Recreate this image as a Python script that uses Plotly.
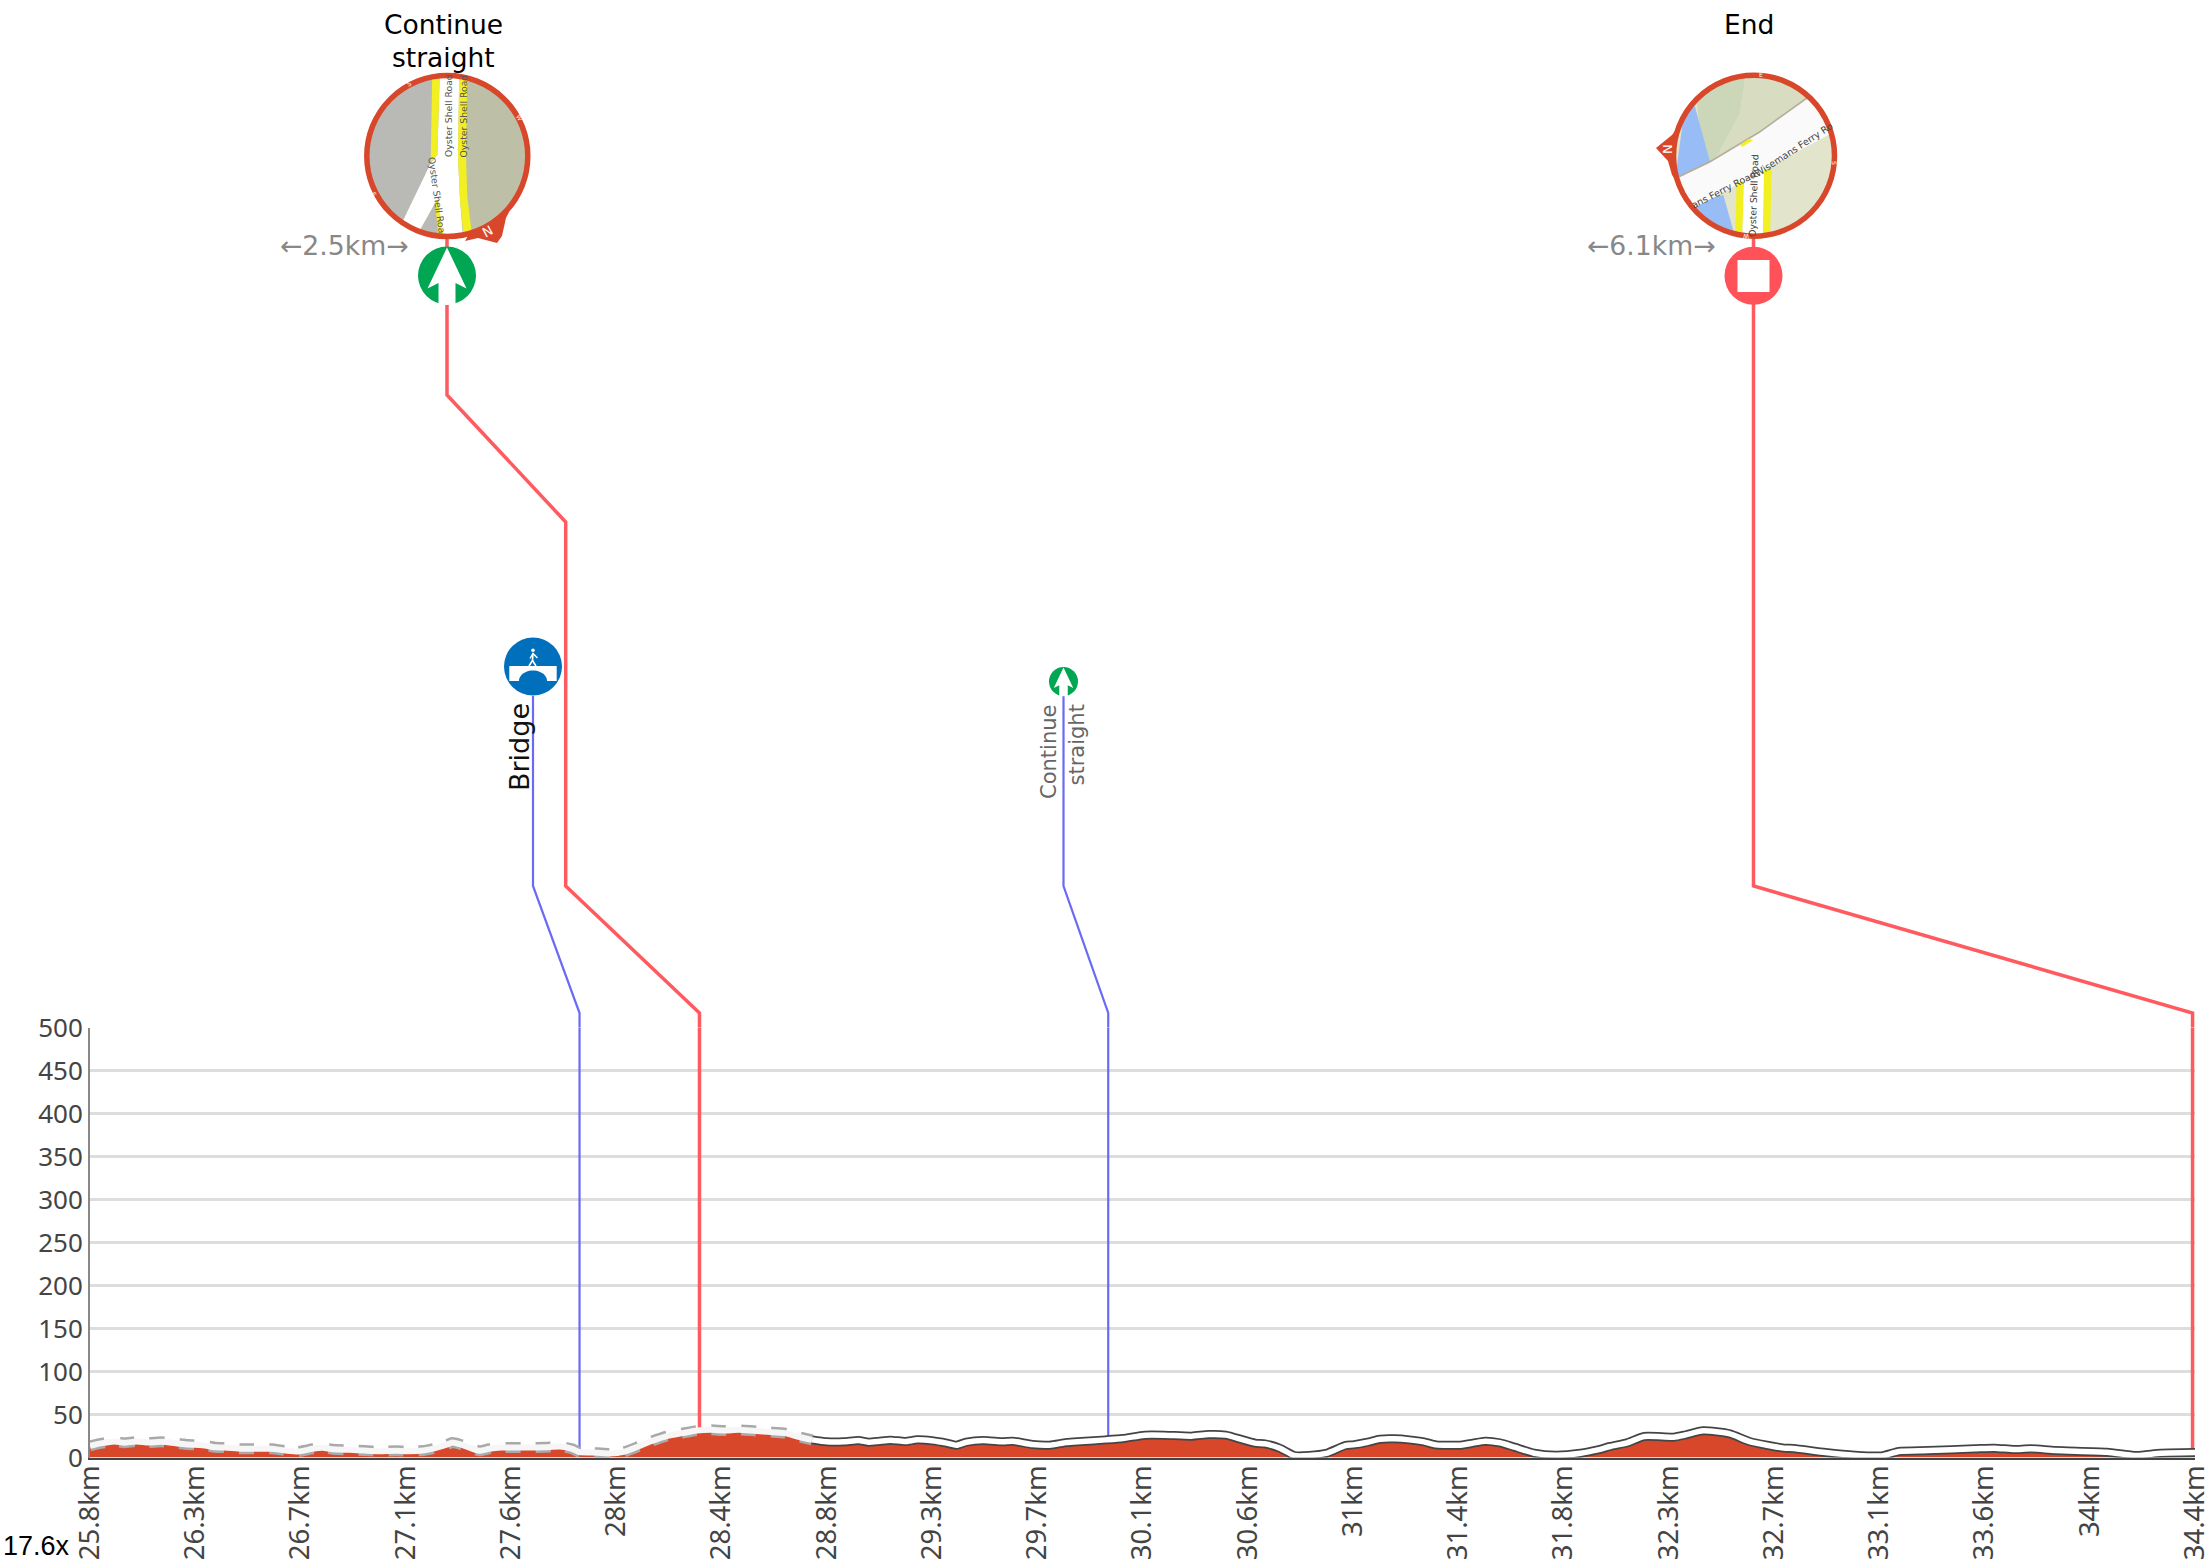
import math
import plotly.graph_objects as go

W, H = 2212, 1567
PLOT_L, PLOT_R, PLOT_T, PLOT_B = 90, 2195, 1027.5, 1457.5

# ---- data ----
km = [25.84,25.89,25.94,25.98,26.03,26.08,26.13,26.19,26.24,26.30,26.35,26.39,26.46,26.51,26.58,26.64,26.69,26.75,26.79,26.83,26.90,26.96,27.02,27.09,27.14,27.20,27.25,27.30,27.32,27.36,27.43,27.47,27.52,27.58,
      27.63,27.70,27.76,27.81,27.84,27.89,27.96,28.02,28.08,28.13,28.20,28.26,28.32,28.38,28.43,28.49,28.54,28.61,28.68,28.73,28.79,
      28.85,28.92,28.98,29.02,29.06,29.11,29.17,29.22,29.28,29.34,29.38,29.42,29.49,29.57,29.61,29.69,29.76,29.83,29.89,29.99,30.06,30.15,30.23,30.34,30.41,30.48,30.55,30.60,30.64,30.70,30.76,30.82,30.89,30.97,31.00,31.06,31.11,31.17,31.23,31.29,31.34,31.44,31.49,31.54,31.60,31.66,31.74,31.83,31.93,32.00,32.05,32.12,32.19,32.31,32.36,32.43,32.54,32.62,32.76,32.80,32.93,33.05,33.16,33.23,33.35,33.54,33.62,33.70,33.77,33.87,34.08,34.20,34.30,34.44]
elevation = [13.6,16.7,18.6,17.1,18.6,17.4,18.2,16.7,15.1,14.3,12.0,11.6,10.1,10.1,10.1,8.1,7.0,10.1,11.2,9.7,8.9,8.1,7.4,7.8,7.4,8.1,10.9,15.1,17.4,14.7,7.8,10.1,11.6,11.6,
             11.6,12.0,12.8,10.1,6.2,5.8,4.7,6.6,12.8,18.6,25.2,28.3,31.4,32.2,31.4,32.2,31.4,29.8,28.3,24.4,20.5,
             18.2,18.2,19.8,17.8,18.6,20.2,18.6,20.5,19.4,16.7,14.3,17.8,19.8,18.2,19.0,15.1,14.3,17.4,18.6,20.5,22.1,26.0,26.0,24.8,26.7,26.0,20.5,16.7,15.9,10.9,2.3,2.3,4.7,14.0,14.7,17.8,21.3,21.7,20.5,18.2,14.7,14.3,16.7,19.0,17.1,12.0,5.0,2.7,5.0,8.9,12.8,17.1,24.4,23.6,26.4,31.0,27.5,18.6,10.9,10.5,5.8,2.7,1.9,7.0,8.1,10.1,10.9,9.3,10.1,8.1,6.2,2.3,5.0,5.8]
DASHED_END_KM = 28.79

tick_km = [25.84,26.27,26.70,27.13,27.56,27.99,28.42,28.85,29.28,29.71,30.14,30.57,31.00,31.43,31.86,32.29,32.72,33.15,33.58,34.01,34.44]
tick_labels = ["25.8km","26.3km","26.7km","27.1km","27.6km","28km","28.4km","28.8km","29.3km","29.7km","30.1km","30.6km","31km","31.4km","31.8km","32.3km","32.7km","33.1km","33.6km","34km","34.4km"]
y_ticks = [0,50,100,150,200,250,300,350,400,450,500]

callout_km = [27.84, 28.33, 30.00, 34.43]
callout_elev = [6.0, 31.5, 20.5, 5.8]
callout_colors = ["#6a6af5", "#ff5a5f", "#6a6af5", "#ff5a5f"]
callout_widths = [2.2, 3.5, 2.2, 3.5]
STEM_TOP = 500

RED = "#d9472b"
KM_MIN, KM_MAX = tick_km[0], tick_km[-1]

# ---- helpers (page pixels to paper) ----
def X(p): return p / W
def Y(p): return 1 - p / H
def km2px(k): return PLOT_L + (k - KM_MIN) / (KM_MAX - KM_MIN) * (PLOT_R - PLOT_L)

shapes, annots = [], []

def path(points, fill=None, line=None, width=0, close=True):
    d = "M" + " L".join(f"{X(x):.5f},{Y(y):.5f}" for x, y in points) + (" Z" if close else "")
    shapes.append(dict(type="path", path=d, xref="paper", yref="paper", layer="above",
                       fillcolor=fill if fill else "rgba(0,0,0,0)",
                       line=dict(color=line if line else "rgba(0,0,0,0)", width=width)))

def circle(cx, cy, r, fill=None, line=None, width=0):
    shapes.append(dict(type="circle", xref="paper", yref="paper", layer="above",
                       x0=X(cx - r), x1=X(cx + r), y0=Y(cy + r), y1=Y(cy - r),
                       fillcolor=fill if fill else "rgba(0,0,0,0)",
                       line=dict(color=line if line else "rgba(0,0,0,0)", width=width)))

def text(x, y, s, size, color, font="DejaVu Sans", angle=0):
    annots.append(dict(x=X(x), y=Y(y), xref="paper", yref="paper", text=s, showarrow=False,
                       textangle=angle, xanchor="center", yanchor="middle", align="center",
                       font=dict(family=font, size=size, color=color)))

def clip_circle(poly, cx, cy, r, n=96):
    """Clip a polygon to the inside of a circle (Sutherland-Hodgman on an n-gon)."""
    out = list(poly)
    for i in range(n):
        a0, a1 = 2*math.pi*i/n, 2*math.pi*(i+1)/n
        ax, ay = cx + r*math.cos(a0), cy + r*math.sin(a0)
        bx, by = cx + r*math.cos(a1), cy + r*math.sin(a1)
        side = lambda p: (bx-ax)*(p[1]-ay) - (by-ay)*(p[0]-ax)
        res = []
        for j in range(len(out)):
            p, q = out[j], out[(j+1) % len(out)]
            sp, sq = side(p), side(q)
            if sp >= 0: res.append(p)
            if sp * sq < 0:
                t = sp / (sp - sq)
                res.append((p[0] + t*(q[0]-p[0]), p[1] + t*(q[1]-p[1])))
        out = res
        if not out: break
    return out

def map_piece(poly, ox, oy, cx, cy, fill, r=79):
    pts = [(ox + a/3, oy + b/3) for a, b in poly]
    c = clip_circle(pts, cx, cy, r)
    if c: path(c, fill=fill)

# ---- leader lines above the chart ----
tops = [
    [(533, 696), (533, 886), (km2px(callout_km[0]), 1013), (km2px(callout_km[0]), PLOT_T)],
    [(447, 239), (447, 395), (565.7, 522), (565.7, 886), (km2px(callout_km[1]), 1013), (km2px(callout_km[1]), PLOT_T)],
    [(1063.5, 696), (1063.5, 886), (km2px(callout_km[2]), 1013), (km2px(callout_km[2]), PLOT_T)],
    [(1753.5, 239), (1753.5, 886), (km2px(callout_km[3]), 1013), (km2px(callout_km[3]), PLOT_T)],
]
for t, c, w in zip(tops, callout_colors, callout_widths):
    path(t, line=c, width=w, close=False)

# ---- map 1 ----
c1 = (447.3, 156)
o1 = (260, 0)
# N pin (under the disc)
path([(465,241),(478,238),(497,243),(502,236),(506,218),(509,212),(480,215)], fill=RED)
circle(*c1, 79, fill="#b9b9b6")
map_piece([(600,200),(900,200),(900,750),(612,750),(600,600),(594,470)], *o1, *c1, "#bdbfa6")
map_piece([(540,200),(598,200),(594,470),(600,600),(612,750),(545,750),(530,600),(480,690),(430,660),(512,490),(532,465)], *o1, *c1, "#ffffff")
map_piece([(517,200),(540,200),(532,465),(512,487)], *o1, *c1, "#f2f022")
map_piece([(598,200),(622,200),(618,470),(622,590),(638,720),(612,720),(600,600),(594,470)], *o1, *c1, "#f2f022")
map_piece([(525,600),(534,600),(552,720),(536,720)], *o1, *c1, "#f2f022")
circle(*c1, 80.5, line=RED, width=5.5)
text(487.5, 232, "N", 13, "white", angle=-28)
text(409, 83.5, "S", 6, "white", angle=-28)
text(519.5, 117, "W", 6, "white", angle=62)
text(374.5, 194.5, "E", 6, "white", angle=62)
text(449, 116, "Oyster Shell Road", 9.3, "#555555", angle=-90)
text(463.5, 116, "Oyster Shell Road", 9.3, "#555555", angle=-90)
text(437.5, 195, "Oyster Shell Roa", 9.3, "#555555", angle=82)

# ---- map 2 ----
c2 = (1754, 155.7)
o2 = (1560, 0)
# N pin (under the disc)
path([(1690,110),(1672,135),(1656,148),(1668,161),(1672,175),(1682,190),(1700,150)], fill=RED)
circle(*c2, 79, fill="#e2e5cb")
map_piece([(400,200),(560,200),(540,340),(470,470),(450,485),(420,400)], *o2, *c2, "#ccd7b9")
map_piece([(560,200),(700,200),(745,290),(600,395),(470,470),(540,340)], *o2, *c2, "#d8dcc0")
map_piece([(380,280),(405,320),(450,485),(345,540)], *o2, *c2, "#98bcf5")
map_piece([(360,620),(490,585),(528,720),(440,720)], *o2, *c2, "#98bcf5")
map_piece([(340,540),(450,485),(600,395),(745,290),(850,380),(400,625),(350,600)], *o2, *c2, "#fafafa")
map_piece([(340,535),(450,482),(600,392),(745,288),(745,294),(600,398),(450,488),(340,541)], *o2, *c2, "#b5ae9c")
map_piece([(530,548),(552,545),(547,715),(525,715)], *o2, *c2, "#f2f022")
map_piece([(612,510),(635,508),(630,715),(608,715)], *o2, *c2, "#f2f022")
map_piece([(552,545),(612,510),(608,715),(547,715)], *o2, *c2, "#ffffff")
map_piece([(540,435),(565,417),(580,420),(548,440)], *o2, *c2, "#f2f022")
circle(*c2, 80.5, line=RED, width=5.5)
text(1667, 149, "N", 13, "white", angle=-90)
text(1760.5, 74, "E", 6, "white")
text(1834.5, 162.5, "S", 6, "white", angle=90)
text(1746, 236.5, "W", 6, "white", angle=180)
text(1754, 196, "Oyster Shell Road", 9.3, "#444444", angle=-88)
text(1793.5, 149, "Wisemans Ferry Ro", 9.5, "#444444", angle=-33)
text(1723.5, 189, "ans Ferry Road", 9.5, "#444444", angle=-27)

# ---- sign markers ----
def arrow(cx, cy, s):
    pts = [(0,-28),(19.5,13),(8.5,7.5),(8.5,29.5),(-8.5,29.5),(-8.5,7.5),(-19.5,13)]
    path([(cx + a*s, cy + b*s) for a, b in pts], fill="white")

circle(447, 275.5, 29, fill="#00a651")
arrow(447, 275.5, 1)
circle(1753.5, 275.8, 29, fill="#ff5258")
path([(1737.5,260),(1769.5,260),(1769.5,292),(1737.5,292)], fill="white")
circle(1063.5, 681.5, 14.5, fill="#00a651")
arrow(1063.5, 681.5, 0.5)

# bridge sign
bx, by = 533, 666.5
circle(bx, by, 29, fill="#0070bc")
path([(bx-23.7,by-0.5),(bx+23.7,by-0.5),(bx+23.7,by+14.5),(bx-23.7,by+14.5)], fill="white")
arch = [(bx + 14*math.cos(math.pi*i/24), by + 14.5 - 10.5*math.sin(math.pi*i/24)) for i in range(25)]
path(arch, fill="#0070bc")
circle(bx, by-16.3, 1.8, fill="white")
path([(bx,by-13),(bx-0.5,by-6),(bx-4,by-0.5)], line="white", width=1.6, close=False)
path([(bx-0.5,by-6),(bx+3,by-0.5)], line="white", width=1.6, close=False)
path([(bx-3,by-8),(bx,by-13),(bx+4.5,by-8.5)], line="white", width=1.4, close=False)

# ---- labels ----
text(443, 25, "Continue", 26.5, "#000000")
text(443, 58, "straight", 26.5, "#000000")
text(1749, 25, "End", 26.5, "#000000")
text(345, 245, "←2.5km→", 26.7, "#888888")
text(1651, 245, "←6.1km→", 26.7, "#888888")
text(519, 747, "Bridge", 27, "#111111", angle=-90)
text(1049, 752, "Continue", 21, "#666666", angle=-90)
text(1077, 745.5, "straight", 21, "#666666", angle=-90)
text(36, 1546, "17.6x", 27, "#000000", font="Liberation Sans")

# ---- traces ----
fig = go.Figure()
for k, e, c, w in zip(callout_km, callout_elev, callout_colors, callout_widths):
    fig.add_trace(go.Scatter(x=[k, k], y=[e, STEM_TOP], mode="lines",
                             line=dict(color=c, width=w), hoverinfo="skip", showlegend=False))

fig.add_trace(go.Scatter(x=km, y=elevation, mode="lines", fill="tozeroy", fillcolor=RED,
                         line=dict(color=RED, width=0.5, shape="spline", smoothing=0.6),
                         hoverinfo="skip", showlegend=False))
split = km.index(DASHED_END_KM)
fig.add_trace(go.Scatter(x=km[:split+1], y=elevation[:split+1], mode="lines",
                         line=dict(color="#a9a9a9", width=11, dash="15px,15px", shape="spline", smoothing=0.6),
                         hoverinfo="skip", showlegend=False))
fig.add_trace(go.Scatter(x=km[split:], y=elevation[split:], mode="lines",
                         line=dict(color="#444444", width=9, shape="spline", smoothing=0.6),
                         hoverinfo="skip", showlegend=False))
fig.add_trace(go.Scatter(x=km[:split+1], y=elevation[:split+1], mode="lines",
                         line=dict(color="#f6f6f6", width=6, shape="spline", smoothing=0.6),
                         hoverinfo="skip", showlegend=False))
fig.add_trace(go.Scatter(x=km[split:], y=elevation[split:], mode="lines",
                         line=dict(color="#ffffff", width=5.5, shape="spline", smoothing=0.6),
                         hoverinfo="skip", showlegend=False))

fig.update_layout(
    width=W, height=H, margin=dict(l=0, r=0, t=0, b=0, autoexpand=False),
    paper_bgcolor="white", plot_bgcolor="white", showlegend=False,
    shapes=shapes, annotations=annots,
    font=dict(family="Noto Sans", size=26, color="#444444"),
    xaxis=dict(domain=[PLOT_L / W, PLOT_R / W], range=[KM_MIN, KM_MAX],
               tickmode="array", tickvals=tick_km, ticktext=tick_labels, tickangle=-90,
               ticks="", ticklabelstandoff=-5,
               showgrid=False, zeroline=False, showline=True, linecolor="#444444", linewidth=1.5,
               layer="above traces", tickfont=dict(family="Noto Sans", size=27.5, color="#444444")),
    yaxis=dict(domain=[1 - PLOT_B / H, 1 - PLOT_T / H], range=[0, 500],
               tickmode="array", tickvals=y_ticks, ticks="",
               showgrid=True, gridcolor="#dddddd", gridwidth=2.5, zeroline=False,
               showline=True, linecolor="#888888", linewidth=2,
               layer="above traces", tickfont=dict(family="Noto Sans", size=26, color="#444444")),
)

fig.write_html("out.html", config=dict(displayModeBar=False),
               post_script="document.body.style.margin='0';document.documentElement.style.overflow='hidden';")
